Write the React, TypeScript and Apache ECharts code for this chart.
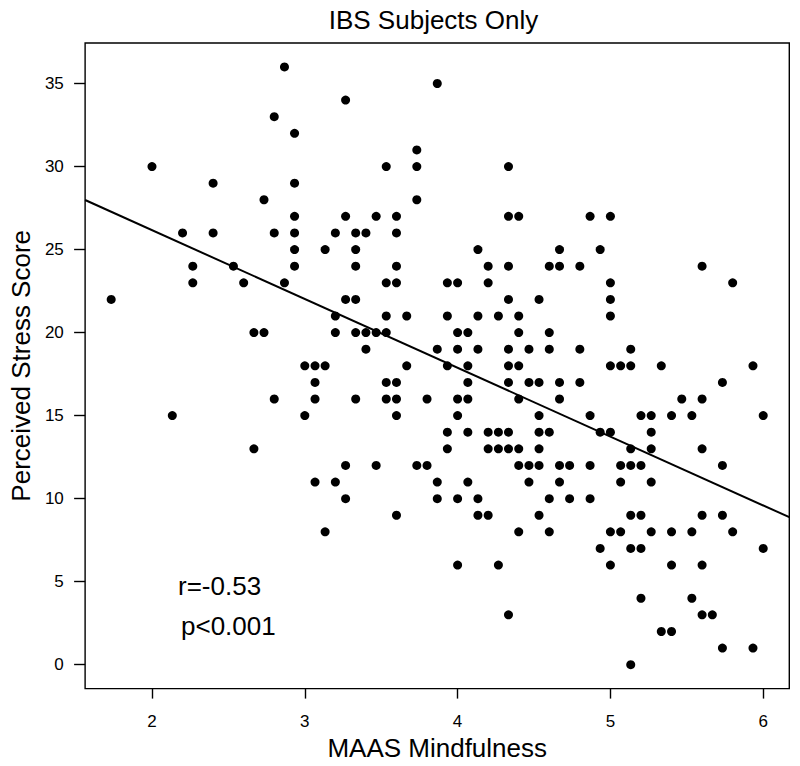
import React, { useEffect, useRef } from "react";
import * as echarts from "echarts";

const chartTitle = "IBS Subjects Only";
const xAxisTitle = "MAAS Mindfulness";
const yAxisTitle = "Perceived Stress Score";
const xTickValues = [2, 3, 4, 5, 6];
const yTickValues = [0, 5, 10, 15, 20, 25, 30, 35];
const statLines = ["r=-0.53", "p<0.001"];
const fitIntercept = 34.46;
const fitSlope = -4.145;

// [MAAS Mindfulness, Perceived Stress Score]
const observations: [number, number][] = [
  [2.867, 36],
  [3.867, 35],
  [3.267, 34],
  [2.8, 33],
  [2.933, 32],
  [3.733, 31],
  [2.0, 30], [3.533, 30], [3.733, 30], [4.333, 30],
  [2.4, 29], [2.933, 29],
  [2.733, 28], [3.733, 28],
  [2.933, 27], [3.267, 27], [3.467, 27], [3.6, 27], [4.333, 27], [4.4, 27], [4.867, 27], [5.0, 27],
  [2.2, 26], [2.4, 26], [2.8, 26], [2.933, 26], [3.2, 26], [3.333, 26], [3.4, 26], [3.6, 26],
  [2.933, 25], [3.133, 25], [3.333, 25], [4.133, 25], [4.667, 25], [4.933, 25],
  [2.267, 24], [2.533, 24], [2.933, 24], [3.333, 24], [3.6, 24], [4.2, 24], [4.333, 24], [4.6, 24], [4.667, 24], [4.8, 24], [5.6, 24],
  [2.267, 23], [2.6, 23], [2.867, 23], [3.533, 23], [3.6, 23], [3.933, 23], [4.0, 23], [4.2, 23], [5.0, 23], [5.8, 23],
  [1.733, 22], [3.267, 22], [3.333, 22], [4.333, 22], [4.533, 22], [5.0, 22],
  [3.2, 21], [3.533, 21], [3.667, 21], [3.933, 21], [4.133, 21], [4.267, 21], [4.4, 21], [5.0, 21],
  [2.667, 20], [2.733, 20], [3.2, 20], [3.333, 20], [3.4, 20], [3.467, 20], [3.533, 20], [4.0, 20], [4.067, 20], [4.4, 20], [4.6, 20],
  [3.4, 19], [3.867, 19], [4.0, 19], [4.133, 19], [4.333, 19], [4.467, 19], [4.6, 19], [4.8, 19], [5.133, 19],
  [3.0, 18], [3.067, 18], [3.133, 18], [3.667, 18], [3.933, 18], [4.067, 18], [4.333, 18], [4.4, 18], [5.0, 18], [5.067, 18], [5.133, 18], [5.333, 18], [5.933, 18],
  [3.067, 17], [3.533, 17], [3.6, 17], [4.067, 17], [4.333, 17], [4.467, 17], [4.533, 17], [4.667, 17], [4.8, 17], [5.733, 17],
  [2.8, 16], [3.067, 16], [3.333, 16], [3.533, 16], [3.6, 16], [3.8, 16], [4.0, 16], [4.067, 16], [4.4, 16], [4.667, 16], [5.467, 16], [5.6, 16],
  [2.133, 15], [3.0, 15], [3.6, 15], [4.0, 15], [4.533, 15], [4.867, 15], [5.2, 15], [5.267, 15], [5.4, 15], [5.533, 15], [6.0, 15],
  [3.933, 14], [4.067, 14], [4.2, 14], [4.267, 14], [4.333, 14], [4.533, 14], [4.6, 14], [4.933, 14], [5.0, 14], [5.267, 14],
  [2.667, 13], [3.933, 13], [4.2, 13], [4.267, 13], [4.333, 13], [4.4, 13], [4.533, 13], [5.133, 13], [5.267, 13], [5.6, 13],
  [3.267, 12], [3.467, 12], [3.733, 12], [3.8, 12], [4.4, 12], [4.467, 12], [4.533, 12], [4.667, 12], [4.733, 12], [4.867, 12], [5.067, 12], [5.133, 12], [5.2, 12], [5.733, 12],
  [3.067, 11], [3.2, 11], [3.867, 11], [4.067, 11], [4.467, 11], [4.667, 11], [5.067, 11], [5.267, 11],
  [3.267, 10], [3.867, 10], [4.0, 10], [4.133, 10], [4.6, 10], [4.733, 10], [4.867, 10],
  [3.6, 9], [4.133, 9], [4.2, 9], [4.533, 9], [5.133, 9], [5.2, 9], [5.6, 9], [5.733, 9],
  [3.133, 8], [4.4, 8], [4.6, 8], [5.0, 8], [5.067, 8], [5.267, 8], [5.4, 8], [5.533, 8], [5.8, 8],
  [4.933, 7], [5.133, 7], [5.2, 7], [6.0, 7],
  [4.0, 6], [4.267, 6], [5.0, 6], [5.4, 6], [5.6, 6],
  [5.2, 4], [5.533, 4],
  [4.333, 3], [5.6, 3], [5.667, 3],
  [5.333, 2], [5.4, 2],
  [5.733, 1], [5.933, 1],
  [5.133, 0],
];

const FONT = "'Liberation Sans', Arial, Helvetica, sans-serif";

export default function App() {
  const ref = useRef<HTMLDivElement>(null);

  useEffect(() => {
    document.body.style.margin = "0";
    if (!ref.current) return;
    const chart = echarts.init(ref.current, null, { renderer: "svg" });

    const xs = observations.map((p) => p[0]);
    const ys = observations.map((p) => p[1]);
    const xMin = Math.min(...xs);
    const xMax = Math.max(...xs);
    const yMin = Math.min(...ys);
    const yMax = Math.max(...ys);
    const xPad = (xMax - xMin) * 0.04;
    const yPad = (yMax - yMin) * 0.04;
    const xLo = xMin - xPad;
    const xHi = xMax + xPad;
    const yLo = yMin - yPad;
    const yHi = yMax + yPad;

    const fitLine = [
      [xLo, fitIntercept + fitSlope * xLo],
      [xHi, fitIntercept + fitSlope * xHi],
    ];

    chart.setOption({
      animation: false,
      backgroundColor: "#fff",
      textStyle: { fontFamily: FONT, color: "#000" },
      title: {
        text: chartTitle,
        left: 433.5,
        top: 6.5,
        textAlign: "center",
        padding: 0,
        textStyle: { fontSize: 26, fontWeight: "normal", color: "#000", fontFamily: FONT },
      },
      grid: {
        left: 78,
        right: 10.7,
        top: 43,
        bottom: 73,
        show: true,
        borderColor: "#000",
        borderWidth: 1.4,
        backgroundColor: "transparent",
      },
      xAxis: {
        type: "value",
        min: xLo,
        max: xHi,
        position: "bottom",
        splitLine: { show: false },
        axisLine: { show: false, onZero: false },
        axisTick: {
          show: true,
          inside: false,
          length: 10,
          customValues: xTickValues,
          lineStyle: { color: "#000", width: 1.4 },
        },
        axisLabel: {
          customValues: xTickValues,
          fontSize: 17,
          color: "#000",
          margin: 24.5,
          fontFamily: FONT,
        },
        name: xAxisTitle,
        nameLocation: "middle",
        nameGap: 38,
        nameTextStyle: { fontSize: 26, color: "#000", fontFamily: FONT },
      },
      yAxis: {
        type: "value",
        min: yLo,
        max: yHi,
        position: "left",
        splitLine: { show: false },
        axisLine: { show: false, onZero: false },
        axisTick: {
          show: true,
          inside: false,
          length: 11,
          customValues: yTickValues,
          lineStyle: { color: "#000", width: 1.4 },
        },
        axisLabel: {
          customValues: yTickValues,
          fontSize: 17,
          color: "#000",
          margin: 21.3,
          fontFamily: FONT,
        },
        name: yAxisTitle,
        nameLocation: "middle",
        nameRotate: 90,
        nameGap: 45,
        nameTextStyle: { fontSize: 26, color: "#000", fontFamily: FONT },
      },
      graphic: [
        {
          type: "text",
          x: 178,
          y: 586,
          style: { text: statLines[0], fontSize: 26, fill: "#000", fontFamily: FONT, verticalAlign: "middle" },
        },
        {
          type: "text",
          x: 181,
          y: 626,
          style: { text: statLines[1], fontSize: 26, fill: "#000", fontFamily: FONT, verticalAlign: "middle" },
        },
      ],
      series: [
        {
          type: "scatter",
          data: observations,
          symbol: "circle",
          symbolSize: 9,
          itemStyle: { color: "#000", opacity: 1 },
          silent: true,
        },
        {
          type: "line",
          data: fitLine,
          symbol: "none",
          lineStyle: { color: "#000", width: 2 },
          silent: true,
        },
      ],
    });

    return () => chart.dispose();
  }, []);

  return <div ref={ref} style={{ width: 800, height: 766 }} />;
}
